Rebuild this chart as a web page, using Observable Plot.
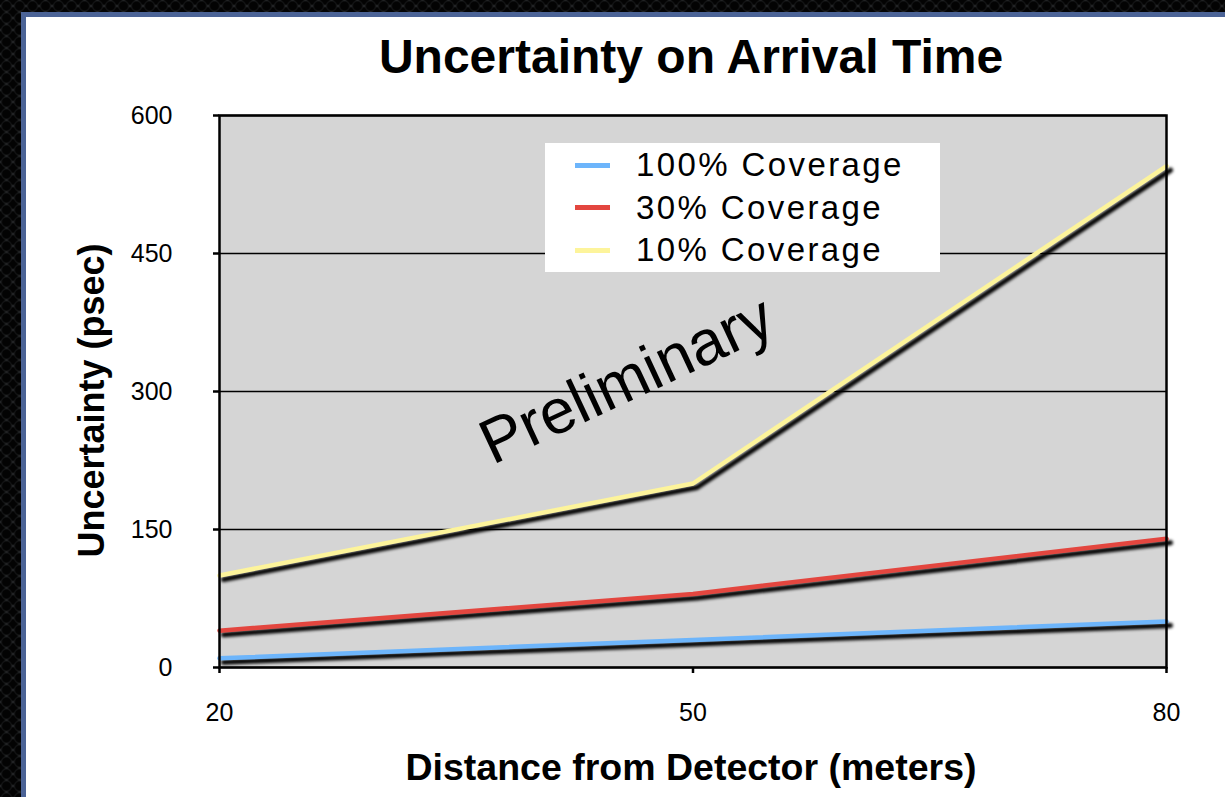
<!DOCTYPE html>
<html>
<head>
<meta charset="utf-8">
<script src="https://cdn.jsdelivr.net/npm/d3@7"></script>
<script src="https://cdn.jsdelivr.net/npm/@observablehq/plot@0.6"></script>
<style>
  html, body { margin: 0; padding: 0; }
  body {
    width: 1225px; height: 797px; overflow: hidden; position: relative;
    background-color: #3a3b3d;
    background-image:
      radial-gradient(circle at center, #030303 0 3.8px, #141516 5px, transparent 6.2px),
      radial-gradient(circle at center, #030303 0 3.8px, #141516 5px, transparent 6.2px);
    background-size: 13px 12px;
    background-position: 0 0, 6.5px 6px;
    font-family: "Liberation Sans", Arial, Helvetica, sans-serif;
  }
  #panel {
    position: absolute; left: 21px; top: 12px; width: 1300px; height: 900px;
    border: 5px solid #4b6396; background: #ffffff; box-sizing: border-box;
  }
  #chart { position: absolute; left: 0; top: 0; }
  #legend {
    position: absolute; left: 545px; top: 143px; width: 395px; height: 129px;
    background: #ffffff;
  }
  .row { position: absolute; left: 0; height: 42px; display: flex; align-items: center; }
  .swatch { width: 35px; height: 5px; margin-left: 30px; margin-right: 26px; }
  .label { font-size: 33px; letter-spacing: 2.4px; color: #000; white-space: nowrap; }
</style>
</head>
<body>
<div id="panel"></div>
<div id="chart"></div>
<div id="legend"></div>
<script>
// Distance from detector (meters)
const distances = [20, 50, 80];
// Series names and their line colours
const seriesNames = ["100% Coverage", "30% Coverage", "10% Coverage"];
const seriesColors = ["#6db5fb", "#e3463f", "#fdf49b"];
// Uncertainty (psec) for each coverage level
const coverage100 = [10, 30, 50];
const coverage30 = [40, 80, 140];
const coverage10 = [100, 200, 545];
// Axis ticks
const xTicks = [20, 50, 80];
const yTicks = [0, 150, 300, 450, 600];
// Watermark placement (data coordinates)
const watermark = [{text: "Preliminary", distance: 45.8, value: 312}];

const seriesValues = [coverage100, coverage30, coverage10];
const rows = seriesNames.flatMap((name, i) =>
  distances.map((d, j) => ({series: name, distance: d, value: seriesValues[i][j]}))
);

const chart = Plot.plot({
  width: 1225,
  height: 797,
  marginLeft: 219,
  marginRight: 59,
  marginTop: 115,
  marginBottom: 130,
  style: {background: "transparent", fontFamily: "'Liberation Sans', Arial, sans-serif", color: "#000"},
  x: {domain: [20, 80]},
  y: {domain: [0, 600]},
  color: {domain: seriesNames, range: seriesColors},
  marks: [
    Plot.frame({fill: "#d5d5d5"}),
    Plot.text(watermark, {x: "distance", y: "value", text: "text", rotate: -25, fontSize: 63, fill: "#000"}),
    Plot.gridY(yTicks, {stroke: "#000", strokeOpacity: 1, strokeWidth: 1.5}),
    Plot.line(rows, {x: "distance", y: "value", z: "series", stroke: "#000", strokeWidth: 5, dx: 4, dy: 4, ariaDescription: "shadow"}),
    Plot.line(rows, {x: "distance", y: "value", z: "series", stroke: "series", strokeWidth: 4.5}),
    Plot.frame({stroke: "#000", strokeWidth: 2.5}),
    Plot.axisX({ticks: xTicks, tickSize: 6, tickPadding: 30, strokeWidth: 2.5, fontSize: 25, label: null}),
    Plot.axisY({ticks: yTicks, tickSize: 6, tickPadding: 41, strokeWidth: 2.5, fontSize: 25, label: null}),
    Plot.text(["Uncertainty on Arrival Time"], {frameAnchor: "top", dx: -2, dy: -77, fontSize: 48, fontWeight: "bold"}),
    Plot.text(["Distance from Detector (meters)"], {frameAnchor: "bottom", dx: -2, dy: 112, fontSize: 37.5, fontWeight: "bold"}),
    Plot.text(["Uncertainty (psec)"], {frameAnchor: "left", textAnchor: "middle", dx: -127, dy: 9, rotate: -90, fontSize: 36, fontWeight: "bold"})
  ]
});

// Soften the drop shadow under each series line
const shadow = chart.querySelector('[aria-description="shadow"]');
if (shadow) shadow.style.filter = "blur(1.4px)";

document.getElementById("chart").appendChild(chart);

// Legend: line swatch + series name
const legend = d3.select("#legend");
seriesNames.forEach((name, i) => {
  const row = legend.append("div").attr("class", "row").style("top", `${1 + i * 42.5}px`);
  row.append("div").attr("class", "swatch").style("background", seriesColors[i]);
  row.append("div").attr("class", "label").text(name);
});
</script>
</body>
</html>
